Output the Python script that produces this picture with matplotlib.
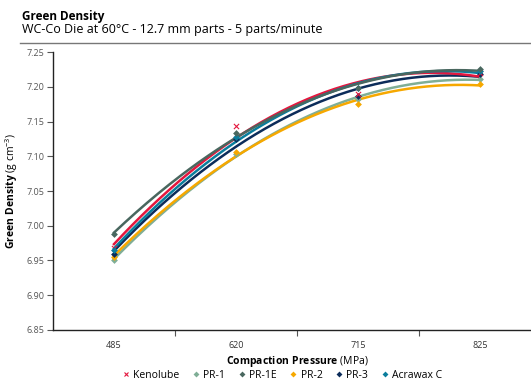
import numpy as np
import matplotlib
matplotlib.use("Agg")
import matplotlib.pyplot as plt
from matplotlib.lines import Line2D

plt.rcParams['font.family'] = ['Open Sans', 'DejaVu Sans']
plt.rcParams['mathtext.fontset'] = 'custom'
plt.rcParams['mathtext.rm'] = 'Open Sans'
plt.rcParams['mathtext.bf'] = 'Open Sans:bold'

pressures = ["485", "620", "715", "825"]
series_names = ["Kenolube", "PR-1", "PR-1E", "PR-2", "PR-3", "Acrawax C"]
kenolube = [6.968, 7.143, 7.190, 7.220]
pr1 = [6.951, 7.103, 7.182, 7.211]
pr1e = [6.988, 7.133, 7.198, 7.225]
pr2 = [6.955, 7.106, 7.175, 7.204]
pr3 = [6.960, 7.125, 7.186, 7.218]
acrawax = [6.965, 7.128, 7.198, 7.222]
yticks = [6.85, 6.90, 6.95, 7.00, 7.05, 7.10, 7.15, 7.20, 7.25]

colors = ["#e4173e", "#7fae96", "#49675f", "#f6a800", "#0c2c5a", "#0a7d9c"]
markers = ["x", "D", "D", "D", "D", "D"]
all_values = [kenolube, pr1, pr1e, pr2, pr3, acrawax]

fig = plt.figure(figsize=(5.31, 3.83), dpi=100)
ax = fig.add_axes([0.0998, 0.1384, 0.919, 0.7258])

x = np.arange(len(pressures))
xs = np.linspace(0, 3, 200)
# draw order: lighter ones first
order = [1, 3, 4, 0, 5, 2]
for i in order:
    vals = all_values[i]
    coef = np.polyfit(x, vals, 2)
    ax.plot(xs, np.polyval(coef, xs), color=colors[i], lw=1.8, zorder=2)
for i in order:
    vals = all_values[i]
    if markers[i] == "x":
        ax.scatter(x, vals, marker="x", s=14, color=colors[i], lw=0.8, zorder=3)
    else:
        ax.scatter(x, vals, marker="D", s=12, color=colors[i], lw=0, zorder=3)

ax.set_xlim(-0.5, 3.5)
ax.set_ylim(6.85, 7.25)
ax.set_yticks(yticks)
ax.set_yticklabels([f"{v:.2f}" for v in yticks])
ax.set_xticks(x)
ax.set_xticklabels(pressures)
ax.set_xticks([0.5, 1.5, 2.5], minor=True)
ax.tick_params(axis='x', which='major', length=0, labelsize=6.5, colors='#333333', pad=8)
ax.tick_params(axis='x', which='minor', length=4, width=0.8, color='#555555')
ax.tick_params(axis='y', length=4, width=0.8, labelsize=6.5, colors='#555555', pad=2)
ax.tick_params(axis='y', color='#555555')
for s in ['top', 'right']:
    ax.spines[s].set_visible(False)
for s in ['left', 'bottom']:
    ax.spines[s].set_linewidth(1.0)
    ax.spines[s].set_color('#222222')

ax.set_ylabel(r"$\mathbf{Green\ Density}$ (g cm$^{-3}$)", fontsize=7.5, labelpad=5)
ax.set_xlabel(r"$\mathbf{Compaction\ Pressure}$ (MPa)", fontsize=7.5, labelpad=3)

fig.text(0.041, 0.975, "Green Density", fontsize=8.5, fontweight='bold', va='top')
fig.text(0.041, 0.94, "WC-Co Die at 60\u00b0C - 12.7 mm parts - 5 parts/minute", fontsize=9, va='top')
fig.add_artist(Line2D([20 / 531, 1.0], [1 - 43 / 383, 1 - 43 / 383], color='#777777', lw=1.0))

handles = []
for i, name in enumerate(series_names):
    handles.append(Line2D([], [], ls='none', marker=markers[i], color=colors[i],
                          markersize=3.5 if markers[i] == "x" else 3,
                          markeredgewidth=0.8 if markers[i] == "x" else 0, label=name))
fig.legend(handles=handles, loc='center', bbox_to_anchor=(282 / 531, 1 - 375 / 383), ncol=6,
           frameon=False, fontsize=7.5, handlelength=0.8, handletextpad=0.3, columnspacing=1.2)

fig.savefig("out.png", dpi=100)
